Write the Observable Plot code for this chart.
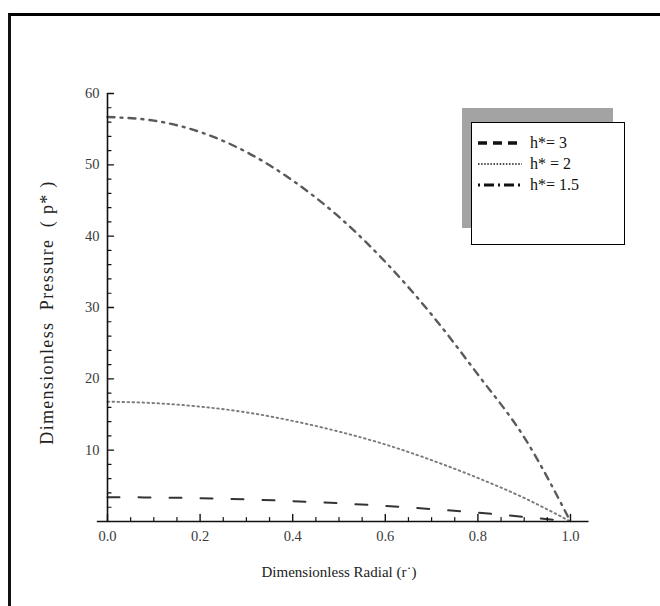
<!DOCTYPE html>
<html><head><meta charset="utf-8">
<script src="https://cdn.jsdelivr.net/npm/d3@7"></script>
<script src="https://cdn.jsdelivr.net/npm/@observablehq/plot@0.6"></script>
<style>
body{margin:0;background:#fff;}
#wrap{position:relative;width:660px;height:606px;overflow:hidden;background:#fff;}
#frame{position:absolute;left:8px;top:13px;width:700px;height:700px;border-top:3px solid #000;border-left:3px solid #111;pointer-events:none;}
#chart{position:absolute;left:0;top:0;}
#shadow{position:absolute;left:462px;top:108px;width:151px;height:120px;background:#a3a3a3;}
#legend{position:absolute;left:471px;top:122px;width:152px;height:121px;background:#fff;border:1.5px solid #000;font-family:"Liberation Serif",serif;font-size:16px;color:#111;}
.row{position:absolute;left:6px;height:18px;display:flex;align-items:center;}
.row svg{margin-right:8px;}
</style>
</head><body>
<div id="wrap"><div id="chart"></div><div id="shadow"></div><div id="legend"></div><div id="frame"></div></div>
<script>
// ---- data ----
const radial = [0, 0.1, 0.2, 0.3, 0.4, 0.5, 0.6, 0.7, 0.8, 0.9, 1.0];
const pH3  = [3.4, 3.37, 3.27, 3.1, 2.86, 2.56, 2.18, 1.74, 1.23, 0.65, 0];
const pH2  = [16.8, 16.6, 16.1, 15.3, 14.1, 12.6, 10.8, 8.6, 6.1, 3.3, 0];
const pH15 = [56.7, 56.2, 54.6, 51.8, 47.8, 42.7, 36.4, 29.0, 20.6, 11.8, 0];
const seriesNames = ["h*= 3", "h* = 2", "h*= 1.5"];
const xMajor = [0, 0.2, 0.4, 0.6, 0.8, 1.0];
const xMinor = d3.range(0, 1.0001, 0.05).filter(v => Math.abs(v * 5 - Math.round(v * 5)) > 1e-6);
const yMajor = [10, 20, 30, 40, 50, 60];
const yMinor = d3.range(2, 60, 2).filter(v => v % 10 !== 0);
const xAxisExtent = [-0.022, 1.04];
const xTitle = "Dimensionless Radial (r\u02D9)";
const yTitle = "Dimensionless\u00A0\u00A0Pressure\u00A0\u00A0(\u00A0p*\u00A0)";

const styles = [
  {stroke: "#333", strokeWidth: 2, dash: "12,19"},
  {stroke: "#7a7a7a", strokeWidth: 1.9, dash: "1.6,3.4"},
  {stroke: "#5a5a5a", strokeWidth: 2.4, dash: "7,6,2,6"}
];
const legendDash = ["9,6", "1.5,1.6", "2,4,10,4"];
const allSeries = [pH3, pH2, pH15];

const table = allSeries.flatMap((vals, i) => radial.map((r, j) => ({r, p: vals[j], s: seriesNames[i]})));

const tickShape = {draw(ctx, l) { ctx.moveTo(0, 0); ctx.lineTo(0, -l); }};
const font = "Liberation Serif";

const chart = Plot.plot({
  width: 660, height: 606,
  marginLeft: 107, marginRight: 90, marginTop: 93, marginBottom: 85,
  style: {fontFamily: font, background: "transparent"},
  x: {domain: [0, 1]},
  y: {domain: [0, 60]},
  marks: [
    ...allSeries.map((vals, i) => Plot.line(table.filter(d => d.s === seriesNames[i]), {
      x: "r", y: "p", curve: "monotone-x",
      stroke: styles[i].stroke, strokeWidth: styles[i].strokeWidth, strokeDasharray: styles[i].dash
    })),
    Plot.ruleY([0], {x1: xAxisExtent[0], x2: xAxisExtent[1], stroke: "#111", strokeWidth: 1.6}),
    Plot.ruleX([0], {y1: 0, y2: 60, stroke: "#111", strokeWidth: 1.6}),
    Plot.vector(xMajor, {x: d => d, y: 0, length: 7, anchor: "start", shape: tickShape, stroke: "#111", strokeWidth: 1.4}),
    Plot.vector(xMinor, {x: d => d, y: 0, length: 4, anchor: "start", shape: tickShape, stroke: "#111", strokeWidth: 1.2}),
    Plot.vector(yMajor, {x: 0, y: d => d, length: 6, rotate: 90, anchor: "start", shape: tickShape, stroke: "#111", strokeWidth: 1.4}),
    Plot.vector(yMinor, {x: 0, y: d => d, length: 3.5, rotate: 90, anchor: "start", shape: tickShape, stroke: "#111", strokeWidth: 1.2}),
    Plot.axisX({ticks: xMajor, tickSize: 0, tickPadding: 9, tickFormat: d3.format(".1f"), fontSize: 14.5, fill: "#3a3a3a", label: null}),
    Plot.axisY({ticks: yMajor, tickSize: 0, tickPadding: 8, fontSize: 14.5, fill: "#3a3a3a", label: null}),
    Plot.text([xTitle], {frameAnchor: "bottom", textAnchor: "middle", dy: 55, fontSize: 15, fill: "#222"}),
    Plot.text([yTitle], {frameAnchor: "left", textAnchor: "middle", dx: -60, dy: 5, rotate: -90, fontSize: 18, fill: "#222"})
  ]
});
document.getElementById("chart").appendChild(chart);
chart.querySelectorAll("text").forEach(t => {
  if (t.textContent.includes("Pressure")) t.setAttribute("letter-spacing", "1.3");
});

// legend
const legend = document.getElementById("legend");
seriesNames.forEach((name, i) => {
  const row = document.createElement("div");
  row.className = "row";
  row.style.top = (11 + i * 21) + "px";
  const sw = i === 0 ? 3.5 : (i === 1 ? 1.6 : 3);
  row.innerHTML = `<svg width="44" height="8"><line x1="0" x2="44" y1="4" y2="4" stroke="#111" stroke-width="${sw}" stroke-dasharray="${legendDash[i]}"/></svg><span>${name}</span>`;
  legend.appendChild(row);
});
</script>
</body></html>
